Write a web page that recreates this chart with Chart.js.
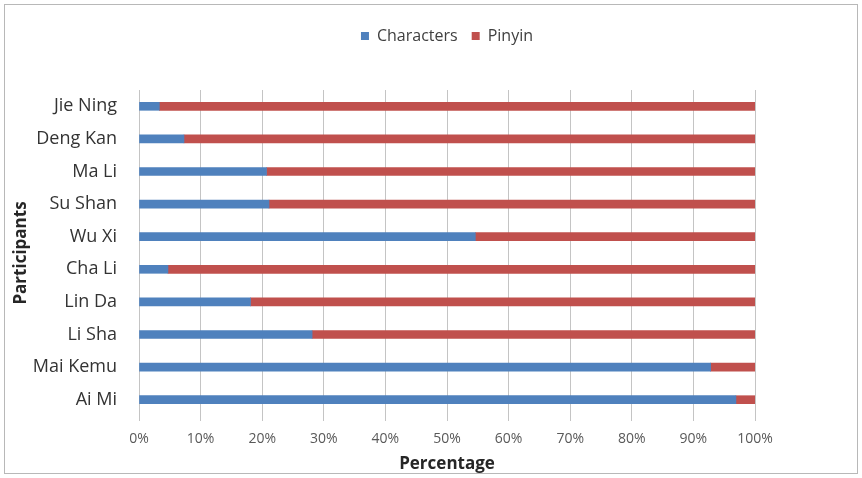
<!DOCTYPE html>
<html>
<head>
  <title>Characters vs Pinyin</title>
  <script src="https://cdn.jsdelivr.net/npm/chart.js"></script>
  <style>
    html, body { margin: 0; padding: 0; background: #fff; }
  </style>
</head>
<body>
  <canvas id="readingChart" width="862" height="478"></canvas>

  <script>
    // Participants, top to bottom as in the chart
    const participants = ['Jie Ning', 'Deng Kan', 'Ma Li', 'Su Shan', 'Wu Xi', 'Cha Li', 'Lin Da', 'Li Sha', 'Mai Kemu', 'Ai Mi'];
    // Share (%)
    const characters = [3.3, 7.3, 20.7, 21.1, 54.6, 4.7, 18.1, 28.1, 92.8, 96.9];
    const pinyin = [96.7, 92.7, 79.3, 78.9, 45.4, 95.3, 81.9, 71.9, 7.2, 3.1];
    const percentTicks = [0, 10, 20, 30, 40, 50, 60, 70, 80, 90, 100];

    // white background + thin grey frame round the whole picture
    const frame = {
      id: 'frame',
      beforeDraw(chart) {
        const c = chart.ctx;
        c.save();
        c.fillStyle = '#fff';
        c.fillRect(0, 0, chart.width, chart.height);
        c.strokeStyle = '#b8b8b8';
        c.lineWidth = 1;
        c.strokeRect(4.5, 4.5, chart.width - 9, chart.height - 9);
        c.restore();
      }
    };

    const ctx = document.getElementById('readingChart').getContext('2d');
    new Chart(ctx, {
      type: 'bar',
      data: {
        labels: participants,
        datasets: [{
          label: 'Characters',
          data: characters,
          backgroundColor: '#4F81BD',
          barThickness: 8
        }, {
          label: 'Pinyin',
          data: pinyin,
          backgroundColor: '#C0504D',
          barThickness: 8
        }]
      },
      options: {
        indexAxis: 'y',
        responsive: false,
        animation: false,
        layout: { padding: { left: 11, right: 107, top: 14, bottom: 4 } },
        plugins: {
          legend: {
            position: 'top',
            fullSize: false,
            labels: {
              font: { family: 'Open Sans', size: 16 },
              color: '#404040',
              boxWidth: 8,
              boxHeight: 8,
              padding: 14
            }
          },
          // empty spacer between legend and plot
          subtitle: {
            display: true,
            text: '',
            weight: 500,
            font: { size: 10, lineHeight: 1 },
            padding: { top: 0, bottom: 26 }
          },
          tooltip: { enabled: false }
        },
        scales: {
          x: {
            stacked: true,
            min: 0,
            max: 100,
            afterBuildTicks(scale) {
              scale.ticks = percentTicks.map(v => ({ value: v }));
            },
            afterFit(scale) { scale.height = 58; },
            grid: { color: '#c4c4c4', tickLength: 5, drawTicks: true },
            border: { display: false },
            ticks: {
              callback: v => v + '%',
              font: { family: 'Open Sans', size: 14 },
              color: '#595959',
              padding: 10
            },
            title: {
              display: true,
              text: 'Percentage',
              font: { family: 'Open Sans', size: 17, weight: 'bold' },
              color: '#262626',
              padding: { top: 2, bottom: 0 }
            }
          },
          y: {
            stacked: true,
            afterFit(scale) { scale.width = 128; },
            grid: { display: false },
            border: { display: true, color: '#c4c4c4' },
            ticks: {
              font: { family: 'Open Sans', size: 18 },
              color: '#333',
              padding: 14
            },
            title: {
              display: true,
              text: 'Participants',
              font: { family: 'Open Sans', size: 17, weight: 'bold' },
              color: '#262626',
              padding: { top: 0, bottom: 0 }
            }
          }
        }
      },
      plugins: [frame]
    });
  </script>
</body>
</html>
